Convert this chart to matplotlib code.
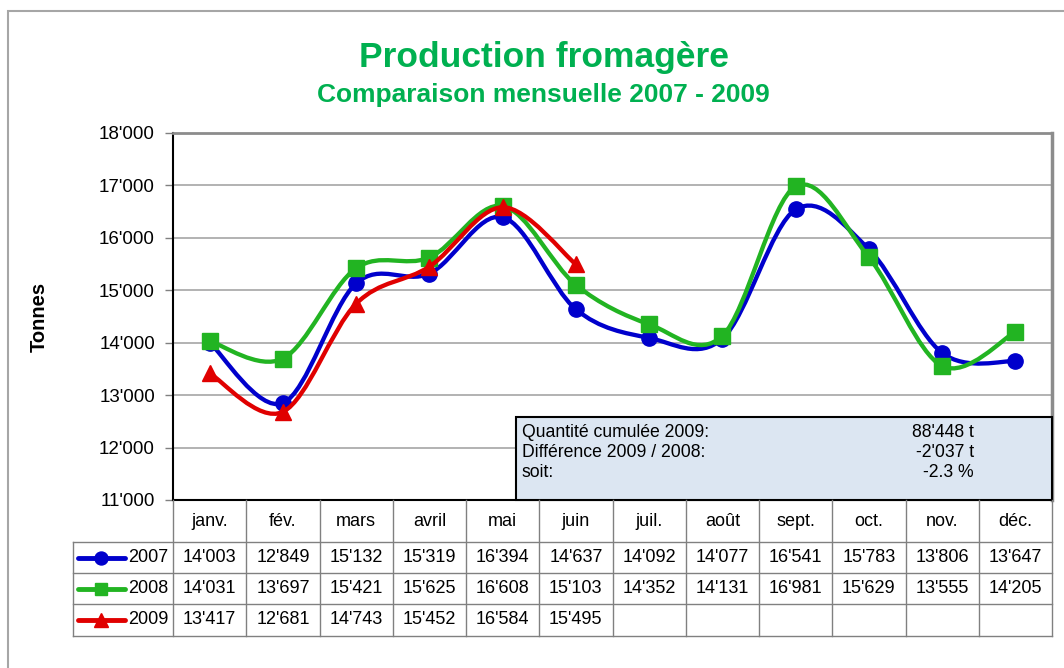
import numpy as np
import matplotlib.pyplot as plt
from matplotlib.path import Path
from matplotlib.patches import PathPatch, Rectangle
from matplotlib.lines import Line2D
from matplotlib.ticker import FuncFormatter

plt.rcParams['font.family'] = ['Liberation Sans', 'DejaVu Sans']

# data
months = ['janv.', 'fév.', 'mars', 'avril', 'mai', 'juin',
          'juil.', 'août', 'sept.', 'oct.', 'nov.', 'déc.']
years = ['2007', '2008', '2009']
v2007 = [14003, 12849, 15132, 15319, 16394, 14637, 14092, 14077, 16541, 15783, 13806, 13647]
v2008 = [14031, 13697, 15421, 15625, 16608, 15103, 14352, 14131, 16981, 15629, 13555, 14205]
v2009 = [13417, 12681, 14743, 15452, 16584, 15495]
summary_labels = ['Quantité cumulée 2009:', 'Différence 2009 / 2008:', 'soit:']
summary_values = ["88'448 t", "-2'037 t", "-2.3 %"]

colors = ['#0000cc', '#22b422', '#e00000']
markers = ['o', 's', '^']
msizes = [11, 11, 12]
series = [v2007, v2008, v2009]


def fmt(v):
    return f"{int(v):,}".replace(',', "'")


def smooth_path(xs, ys):
    # Excel-like smoothed line: cubic Bezier through every point
    p = np.column_stack([xs, ys]).astype(float)
    n = len(p)
    verts = [p[0]]
    codes = [Path.MOVETO]
    for i in range(n - 1):
        p0 = p[i - 1] if i > 0 else p[i]
        p3 = p[i + 2] if i + 2 < n else p[i + 1]
        c1 = p[i] + (p[i + 1] - p0) / 6.0
        c2 = p[i + 1] - (p3 - p[i]) / 6.0
        verts += [c1, c2, p[i + 1]]
        codes += [Path.CURVE4] * 3
    return Path(verts, codes)


W, H = 1064, 668
fig = plt.figure(figsize=(W / 100, H / 100), dpi=100)

# outer frame
fig.add_artist(Rectangle((8 / W, -0.1), 1.2, (H - 11) / H + 0.1,
                         transform=fig.transFigure, fill=False,
                         ec='#a6a6a6', lw=1.5))

ax = fig.add_axes([173 / W, (H - 500) / H, 879 / W, 367 / H])
x = np.arange(len(months))
for i, (vals, c, m, ms) in enumerate(zip(series, colors, markers, msizes)):
    xs = x[:len(vals)]
    ax.add_patch(PathPatch(smooth_path(xs, vals), fill=False, ec=c, lw=3.1,
                           zorder=3 + i, capstyle='round'))
    ax.plot(xs, vals, ls='none', marker=m, ms=ms, color=c, zorder=3 + i)

ax.set_xlim(-0.5, 11.5)
ax.set_ylim(11000, 18000)
ax.set_yticks(np.arange(11000, 18001, 1000))
ax.yaxis.set_major_formatter(FuncFormatter(lambda v, p: fmt(v)))
ax.tick_params(axis='y', labelsize=13.5, length=6, width=1, color='#808080', pad=7)
ax.set_xticks([])
ax.grid(axis='y', color='#a6a6a6', lw=1.2)
ax.set_axisbelow(True)
ax.spines['left'].set_color('black')
ax.spines['bottom'].set_color('black')
ax.spines['left'].set_linewidth(1.5)
ax.spines['bottom'].set_linewidth(1.5)
ax.spines['top'].set_color('#8c8c8c')
ax.spines['right'].set_color('#8c8c8c')
ax.spines['top'].set_linewidth(2)
ax.spines['right'].set_linewidth(2.5)
ax.set_ylabel('Tonnes', fontsize=14.5, fontweight='bold', labelpad=36)

# summary box
ax.add_patch(Rectangle((0.390, 0), 0.610, 0.226, transform=ax.transAxes,
                       fc='#dce6f2', ec='black', lw=1.5, zorder=10, clip_on=False))
for k, (lab, val) in enumerate(zip(summary_labels, summary_values)):
    yy = 0.185 - k * 0.0545
    ax.text(0.397, yy, lab, transform=ax.transAxes, fontsize=12.7, va='center', zorder=11)
    ax.text(0.911, yy, val, transform=ax.transAxes, fontsize=12.7, va='center',
            ha='right', zorder=11)

# titles
fig.text(544 / W, 1 - 58 / H, 'Production fromagère', color='#00b050',
         fontsize=25.5, fontweight='bold', ha='center', va='center')
fig.text(543 / W, 1 - 95 / H, 'Comparaison mensuelle 2007 - 2009', color='#00b050',
         fontsize=19, fontweight='bold', ha='center', va='center')

# data table
tab = fig.add_axes([73 / W, (H - 636) / H, 979 / W, 136 / H])
leg_w = 100 / 73.25
tab.set_xlim(-0.5 - leg_w, 11.5)
tab.set_ylim(136, 0)
tab.axis('off')
rows = [0, 42, 73, 104, 136]
lc = '#808080'
for r in rows[1:]:
    tab.plot([-0.5 - leg_w, 11.5], [r, r], color=lc, lw=1, clip_on=False)
tab.plot([-0.5 - leg_w] * 2, [rows[1], rows[-1]], color=lc, lw=1, clip_on=False)
for k in range(13):
    tab.plot([k - 0.5] * 2, [0, rows[-1]], color=lc, lw=1, clip_on=False)
for k, mth in enumerate(months):
    tab.text(k, (rows[0] + rows[1]) / 2, mth, ha='center', va='center', fontsize=13)
for j, (vals, c, m, ms) in enumerate(zip(series, colors, markers, msizes)):
    ymid = (rows[j + 1] + rows[j + 2]) / 2
    for k, v in enumerate(vals):
        tab.text(k, ymid, fmt(v), ha='center', va='center', fontsize=13)
    x0 = -0.5 - leg_w
    tab.add_line(Line2D([x0 + 5 / 73.25, x0 + 52 / 73.25], [ymid, ymid], color=c, lw=3.5,
                        solid_capstyle='round'))
    tab.plot([x0 + 28 / 73.25], [ymid], marker=m, ms=ms * 0.85, color=c)
    tab.text(x0 + 55 / 73.25, ymid, years[j], ha='left', va='center', fontsize=13)

fig.savefig('out.png', dpi=100)
